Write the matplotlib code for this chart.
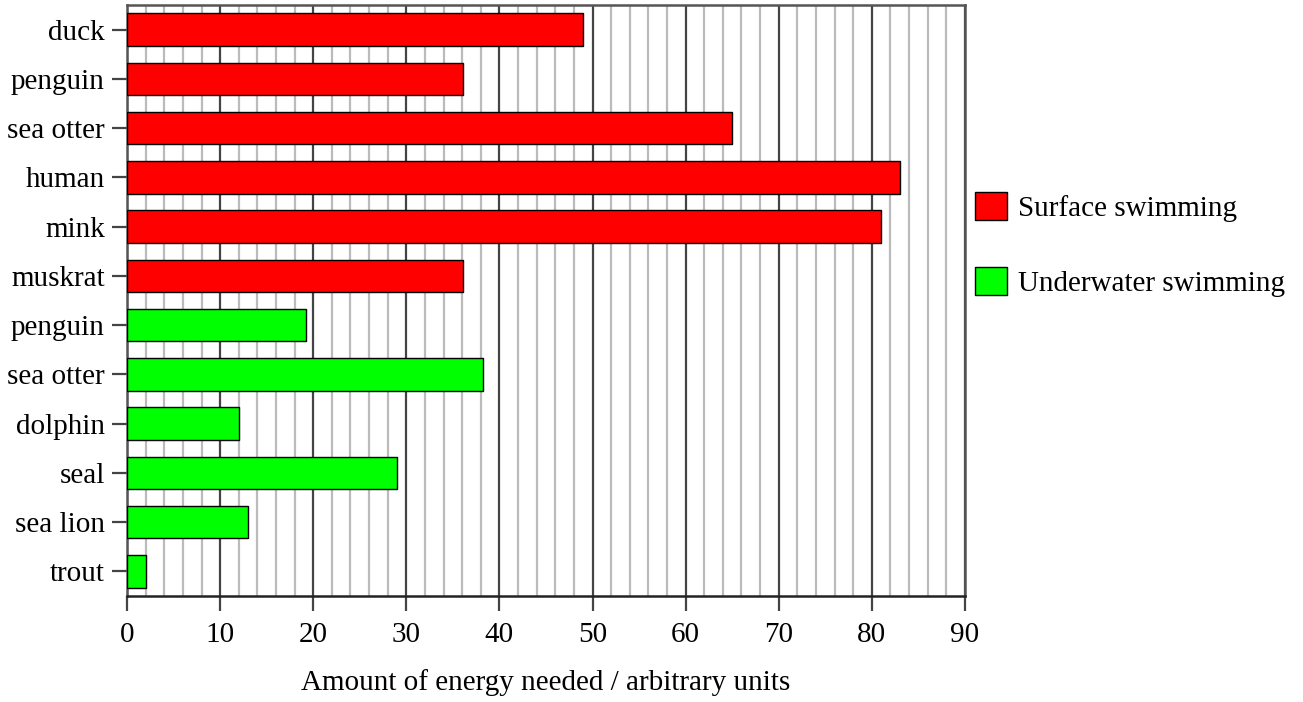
import matplotlib.pyplot as plt
from matplotlib.patches import Patch
from matplotlib.ticker import MultipleLocator

plt.rcParams['font.family'] = ['Liberation Serif', 'DejaVu Serif']

# data, top to bottom
animals = ['duck', 'penguin', 'sea otter', 'human', 'mink', 'muskrat',
           'penguin', 'sea otter', 'dolphin', 'seal', 'sea lion', 'trout']
energy = [49, 36.1, 65, 83, 81, 36.1,
          19.2, 38.2, 12, 29, 13, 2]
mode = ['surface'] * 6 + ['underwater'] * 6
mode_colors = {'surface': '#ff0000', 'underwater': '#00ff00'}
mode_labels = {'surface': 'Surface swimming', 'underwater': 'Underwater swimming'}

fig = plt.figure(figsize=(13.03, 7.02), dpi=100)
ax = fig.add_axes([0.0975, 0.151, 0.643, 0.842])

ypos = list(range(len(animals)))
ax.barh(ypos, energy, height=0.66, color=[mode_colors[m] for m in mode],
        edgecolor='black', linewidth=1, zorder=3)

ax.set_xlim(0, 90)
ax.set_ylim(len(animals) - 0.5, -0.5)
ax.set_yticks(ypos)
ax.set_yticklabels(animals)
ax.xaxis.set_major_locator(MultipleLocator(10))
ax.xaxis.set_minor_locator(MultipleLocator(2))
ax.grid(which='minor', axis='x', color='#bbbbbb', linewidth=1.6, zorder=1)
ax.grid(which='major', axis='x', color='#444444', linewidth=1.6, zorder=2)
ax.tick_params(axis='both', which='major', labelsize=21, width=1.6,
               color='#444444')
ax.tick_params(axis='x', which='major', length=11, pad=8)
ax.tick_params(axis='x', which='minor', length=0)
ax.tick_params(axis='y', length=11, pad=5)
for s in ax.spines.values():
    s.set_color('#555555')
    s.set_linewidth(1.8)
ax.spines['bottom'].set_color('#222222')

ax.set_xlabel('Amount of energy needed / arbitrary units', fontsize=21, labelpad=15)

handles = [Patch(facecolor=mode_colors[k], edgecolor='black', linewidth=1, label=mode_labels[k])
           for k in ['surface', 'underwater']]
ax.legend(handles=handles, loc='center left', bbox_to_anchor=(1.0, 0.594),
          frameon=False, fontsize=21, handlelength=1.1, handleheight=1.1,
          handletextpad=0.38, labelspacing=1.55, borderaxespad=0, borderpad=0.35)

fig.savefig('out.png', dpi=100)
